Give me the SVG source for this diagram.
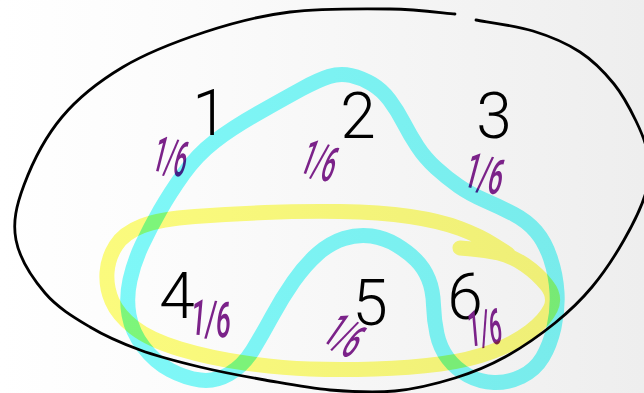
<svg xmlns="http://www.w3.org/2000/svg" width="644" height="393" viewBox="0 0 644 393">
  <defs>
    <linearGradient id="bg" x1="0" y1="0" x2="644" y2="0" gradientUnits="userSpaceOnUse">
      <stop offset="0" stop-color="#ffffff"/>
      <stop offset="0.3" stop-color="#fbfbfb"/>
      <stop offset="1" stop-color="#eeeeee"/>
    </linearGradient>
  </defs>
  <style>
    .outline { fill: none; stroke: #000; stroke-width: 2.8; stroke-linecap: round; stroke-linejoin: round; }
    .digit { font-family: Roboto, "Open Sans", "DejaVu Sans", sans-serif; font-weight: 300; font-size: 64px; fill: #000; text-anchor: middle; }
    .prob { font-family: Roboto, "Open Sans", "DejaVu Sans", sans-serif; font-weight: 500; font-size: 50px; fill: #7b2289; text-anchor: middle; }
    .hl { fill: none; stroke-width: 15; stroke-linecap: round; stroke-linejoin: round; mix-blend-mode: multiply; }
    .cyan { stroke: #80fafa; }
    .yellow { stroke: #fdfd7e; }
  </style>
  <rect width="644" height="393" fill="url(#bg)"/>

  <g id="sample-space">
    <path class="outline" d="M455,14 C444.2,13.2 417.5,9.3 390,9 C362.5,8.7 320.8,8.2 290,12 C259.2,15.8 232.8,22.8 205,32 C177.2,41.2 146.8,52.8 123,67 C99.2,81.2 78.5,97.3 62,117 C45.5,136.7 31.7,164.5 24,185 C16.3,205.5 12.5,222 16,240 C19.5,258 32.7,278.5 45,293 C57.3,307.5 74.2,317.5 90,327 C105.8,336.5 121.7,343.3 140,350 C158.3,356.7 179.2,362 200,367 C220.8,372 243.3,376.2 265,380 C286.7,383.8 308.3,388.2 330,390 C351.7,391.8 374.2,393 395,391 C415.8,389 436.7,383.7 455,378 C473.3,372.3 488.3,366.2 505,357 C521.7,347.8 540.5,334.7 555,323 C569.5,311.3 580.5,300.8 592,287 C603.5,273.2 615,255.8 624,240 C633,224.2 642,206.2 646,192 C650,177.8 649.7,166.8 648,155 C646.3,143.2 641.7,132.8 636,121 C630.3,109.2 623.3,95.5 614,84 C604.7,72.5 593.5,60.8 580,52 C566.5,43.2 550.3,36.3 533,31 C515.7,25.7 485.5,21.8 476,20"/>
  </g>

  <g id="outcomes">
    <g id="o1"><text class="digit" x="210" y="135">1</text><text class="prob" transform="translate(171,157) rotate(14)" y="17" textLength="34" lengthAdjust="spacingAndGlyphs">1/6</text></g>
    <g id="o2"><text class="digit" x="358" y="138">2</text><text class="prob" transform="translate(320,161) rotate(20)" y="17" textLength="34" lengthAdjust="spacingAndGlyphs">1/6</text></g>
    <g id="o3"><text class="digit" x="494" y="138">3</text><text class="prob" transform="translate(485,174) rotate(15)" y="17" textLength="38" lengthAdjust="spacingAndGlyphs">1/6</text></g>
    <g id="o4"><text class="digit" x="177" y="318">4</text><text class="prob" transform="translate(211,321) rotate(5)" y="15" textLength="40" lengthAdjust="spacingAndGlyphs" font-size="44">1/6</text></g>
    <g id="o5"><text class="digit" x="370" y="325">5</text><text class="prob" transform="translate(343,339) rotate(35)" y="13" textLength="34" lengthAdjust="spacingAndGlyphs" font-size="38">1/6</text></g>
    <g id="o6"><text class="digit" x="465" y="319">6</text><text class="prob" transform="translate(485,331) rotate(-5)" y="14" textLength="34" lengthAdjust="spacingAndGlyphs" font-size="40">1/6</text></g>
  </g>

  <g id="event-cyan">
    <path class="hl cyan" d="M351,75.5 Q362,78 372,84 Q382,90 389.5,100 Q397,110 403.5,122.5 Q410,135 417.5,146.5 Q425,158 436,168 Q447,178 458.5,186 Q470,194 485,200.5 Q500,207 513.5,214 Q527,221 536,231.5 Q545,242 550.5,258.5 Q556,275 557,292.5 Q558,310 554,327.5 Q550,345 542.5,357.5 Q535,370 521.5,376.5 Q508,383 494,382.5 Q480,382 468,375.5 Q456,369 448,358.5 Q440,348 437,334 Q434,320 433.5,305 Q433,290 428.5,279 Q424,268 416,260 Q408,252 396.5,245 Q385,238 371.5,236 Q358,234 344,238.5 Q330,243 317.5,254 Q305,265 293.5,281.5 Q282,298 272,316.5 Q262,335 252.5,350.5 Q243,366 229,374 Q215,382 200,380 Q185,378 170,370 Q155,362 143.5,347 Q132,332 129,315 Q126,298 130,280 Q134,262 142,245 Q150,228 160,210.5 Q170,193 183.5,174 Q197,155 214.5,141.5 Q232,128 258.5,113 Q285,98 301.5,89 Q318,80 329,76.5 Q340,73 351,75.5 Z"/>
  </g>

  <g id="event-yellow">
    <path class="hl yellow" d="M460,248 L471.5,249 Q485,250 498.5,253 Q512,256 525,265 Q538,274 547,285.5 Q556,297 550.5,308.5 Q545,320 530,331.5 Q515,343 492.5,351.5 Q470,360 440,364 Q410,368 375,369 Q340,370 310,369 Q280,368 245,363 Q210,358 180,349 Q150,340 134,327.5 Q118,315 112,301 Q106,287 107,272.5 Q108,258 116,245.5 Q124,233 142,226 Q160,219 195,216.5 Q230,214 265,212.5 Q300,211 340,211.5 Q380,212 410,216.5 Q440,221 460,228.5 Q480,236 494,245 L508,254"/>
  </g>
</svg>
